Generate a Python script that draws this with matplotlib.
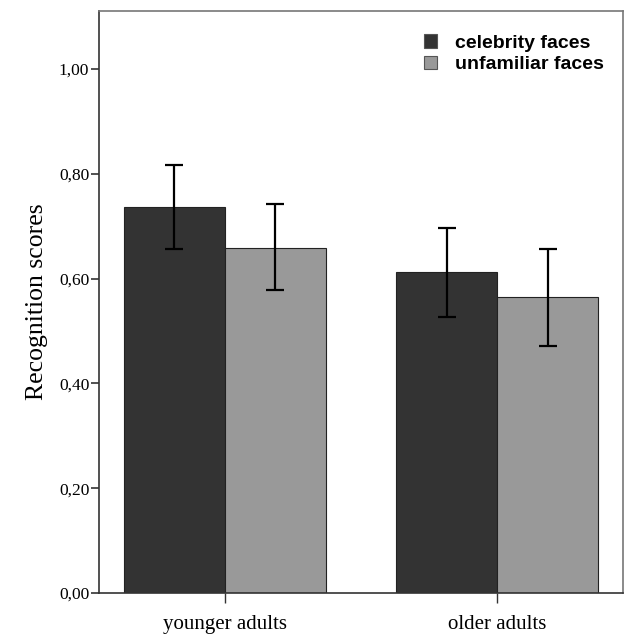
import matplotlib.pyplot as plt
import numpy as np

# Data
groups = ["younger adults", "older adults"]
conditions = ["celebrity faces", "unfamiliar faces"]
means = {
    "celebrity faces": [0.737, 0.613],
    "unfamiliar faces": [0.659, 0.565],
}
err_low = {
    "celebrity faces": [0.656, 0.527],
    "unfamiliar faces": [0.578, 0.471],
}
err_high = {
    "celebrity faces": [0.817, 0.697],
    "unfamiliar faces": [0.742, 0.656],
}
colors = {"celebrity faces": "#333333", "unfamiliar faces": "#999999"}
yticks = [0.0, 0.2, 0.4, 0.6, 0.8, 1.0]

fig = plt.figure(figsize=(6.25, 6.34), dpi=100)
ax = fig.add_axes([0.1584, 0.0647, 0.8384, 0.918])

x = np.arange(len(groups))
width = 0.371
offsets = [-width / 2, width / 2]

for cond, off in zip(conditions, offsets):
    m = np.array(means[cond])
    lo = m - np.array(err_low[cond])
    hi = np.array(err_high[cond]) - m
    ax.bar(x + off, m, width, color=colors[cond], edgecolor="#222222",
           linewidth=0.8, label=cond, zorder=2)
    ax.errorbar(x + off, m, yerr=[lo, hi], fmt="none", ecolor="black",
                elinewidth=1.6, capsize=6.5, capthick=1.6, zorder=3)

ax.set_xlim(-0.463, 1.463)
ax.set_ylim(0, 1.111)
ax.set_yticks(yticks)
ax.set_yticklabels([f"{v:.2f}".replace(".", ",") for v in yticks],
                   fontfamily="Liberation Serif", fontsize=12.5)
ax.set_xticks(x)
ax.set_xticklabels(groups, fontfamily="Liberation Serif", fontsize=15)
ax.tick_params(axis="x", length=7.5, width=1, color="#333333", pad=8)
ax.tick_params(axis="y", length=6, width=1.2, color="#333333", pad=1)

ax.set_ylabel("Recognition scores", fontfamily="Liberation Serif",
              fontsize=18.5, labelpad=8)

for s in ax.spines.values():
    s.set_color("#777777")
    s.set_linewidth(1.2)
ax.spines["left"].set_color("#333333")
ax.spines["bottom"].set_color("#333333")

leg = ax.legend(loc="upper left", bbox_to_anchor=(0.586, 0.99), frameon=False,
                prop={"family": "Liberation Sans", "weight": "bold", "size": 14},
                handlelength=0.67, handleheight=0.67, handletextpad=0.93,
                labelspacing=0.2)
for h in leg.legend_handles:
    h.set_edgecolor("#555555")

plt.savefig("out.png", dpi=100)
